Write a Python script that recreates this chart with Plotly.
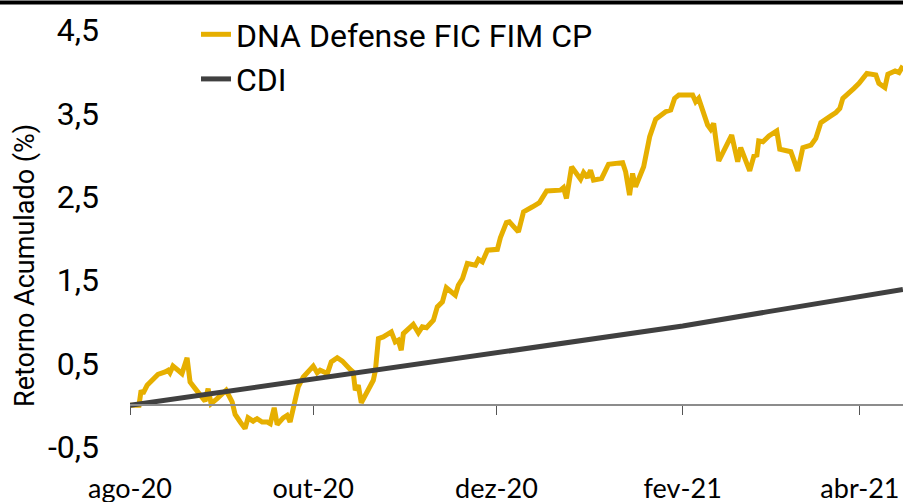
import pandas as pd
import plotly.graph_objects as go

# ---- data (days since 2020-08-01, cumulative return in %) ----
start_date = "2020-08-01"

dna_day = [0, 2, 3, 3.7, 4.3, 5.7, 7.3, 9.3, 11.7, 12.7, 13.3, 14.3, 16, 17.3, 19, 20,
           21.7, 24, 25, 26, 27, 29, 30.7, 32, 34, 35, 36.7, 38.3, 39.3, 41, 42.3, 44,
           45.7, 46.7, 48, 49, 51, 52.3, 53.3, 54.7, 56, 57.7, 59.3, 61, 62.3, 63.3,
           65.7, 67, 69, 70.7, 73.3, 74.3, 75, 76, 77, 80, 81, 81.7, 82.7, 84.3, 87,
           88.3, 89.3, 90.3, 91, 94.3, 96, 97.3, 98.7, 101, 102.3, 104, 105.3, 108.3,
           109.3, 110.7, 112.3, 115, 116, 117.3, 119, 122.3, 123.3, 125.3, 126.3, 129.3,
           131, 134, 136.3, 138.7, 143.3, 144.3, 145.3, 147, 150, 151, 152.3, 153.3,
           154.3, 157, 159.3, 164, 165, 166.3, 167.3, 168.3, 171, 173, 175, 178.3, 180,
           181.3, 182.7, 187.3, 188.3, 189.3, 192.3, 193.3, 194.3, 196, 198.3, 200.3,
           202.3, 203.3, 206.3, 207.7, 208.7, 209.3, 210.7, 212.7, 215.3, 216.3, 220,
           221.3, 222.3, 224, 226.7, 228.3, 230, 233.3, 235, 236.3, 237.3, 241, 242.7,
           245.3, 248.3, 249.3, 251.3, 252.3, 254.7, 256, 257.3]

dna_ret = [0.00, -0.01, 0.00, 0.18, 0.14, 0.24, 0.30, 0.37, 0.40, 0.42, 0.39, 0.47, 0.42,
           0.38, 0.57, 0.28, 0.20, 0.10, 0.05, 0.20, 0.02, 0.08, 0.14, 0.18, 0.04, -0.11,
           -0.20, -0.28, -0.15, -0.19, -0.16, -0.20, -0.20, -0.22, -0.03, -0.23, -0.15,
           -0.12, -0.20, -0.01, 0.22, 0.34, 0.40, 0.47, 0.39, 0.42, 0.38, 0.52, 0.57,
           0.53, 0.43, 0.40, 0.18, 0.24, 0.03, 0.24, 0.30, 0.42, 0.80, 0.82, 0.88, 0.76,
           0.78, 0.66, 0.86, 0.97, 0.87, 0.94, 0.93, 1.02, 1.18, 1.24, 1.41, 1.32, 1.44,
           1.52, 1.70, 1.68, 1.75, 1.72, 1.86, 1.87, 2.01, 2.19, 2.20, 2.08, 2.32, 2.38,
           2.43, 2.57, 2.58, 2.61, 2.48, 2.86, 2.71, 2.79, 2.73, 2.82, 2.70, 2.72, 2.89,
           2.91, 2.80, 2.52, 2.78, 2.62, 2.86, 3.22, 3.43, 3.52, 3.54, 3.68, 3.72, 3.72,
           3.64, 3.68, 3.36, 3.31, 3.38, 2.93, 3.10, 3.24, 2.92, 3.09, 2.81, 2.99, 3.00,
           3.17, 3.16, 3.23, 3.29, 3.07, 3.04, 2.92, 2.81, 3.09, 3.12, 3.20, 3.39, 3.47,
           3.51, 3.56, 3.68, 3.80, 3.86, 3.98, 3.96, 3.86, 3.81, 3.97, 4.01, 3.99, 4.07]

cdi_day = [0, 31, 61, 92, 122, 153, 184, 212, 243, 257.3]
cdi_ret = [0.00, 0.16, 0.32, 0.48, 0.64, 0.79, 0.95, 1.12, 1.30, 1.39]

x_tick_dates = ["2020-08-01", "2020-10-01", "2020-12-01", "2021-02-01", "2021-04-01"]
x_tick_text = ["ago-20", "out-20", "dez-20", "fev-21", "abr-21"]
y_tick_vals = [-0.5, 0.5, 1.5, 2.5, 3.5, 4.5]
y_tick_text = ["-0,5", "0,5", "1,5", "2,5", "3,5", "4,5"]

series_names = ["DNA Defense FIC FIM CP", "CDI"]
x_end_date = "2021-04-15 08:00"

# ---- build ----
t0 = pd.Timestamp(start_date)
dna_dates = t0 + pd.to_timedelta(dna_day, unit="D")
cdi_dates = t0 + pd.to_timedelta(cdi_day, unit="D")

W, H = 903, 502
ML, MR, MT, MB = 130, 0, 30, 55
plot_h = H - MT - MB
plot_w = W - ML - MR
y_min, y_max = -0.5, 4.5
zero_pos = (0 - y_min) / (y_max - y_min)

fig = go.Figure()
fig.add_trace(go.Scatter(x=dna_dates, y=dna_ret, mode="lines", name=series_names[0],
                         legendgroup="a",
                         line=dict(color="#E6AF00", width=5)))
fig.add_trace(go.Scatter(x=cdi_dates, y=cdi_ret, mode="lines", name=series_names[1],
                         legendgroup="b",
                         line=dict(color="#404040", width=5)))

fig.update_layout(
    width=W, height=H,
    margin=dict(l=ML, r=MR, t=MT, b=MB, autoexpand=False),
    paper_bgcolor="white", plot_bgcolor="white",
    font=dict(family="Roboto", color="black"),
    showlegend=True,
    legend=dict(x=(196 - ML) / plot_w, y=1.0 + 23 / plot_h, xanchor="left", yanchor="top",
                bgcolor="rgba(0,0,0,0)", font=dict(family="Roboto", size=32, color="black"),
                tracegroupgap=0, itemwidth=30),
    xaxis=dict(
        type="date",
        range=[t0, pd.Timestamp(x_end_date)],
        anchor="free", position=zero_pos,
        showline=True, linecolor="#8C8C8C", linewidth=2,
        ticks="outside", ticklen=9, tickwidth=1, tickcolor="#555555",
        tickvals=pd.to_datetime(x_tick_dates), ticktext=x_tick_text,
        tickfont=dict(family="Lato", size=27, color="black"),
        ticklabelstandoff=50,
        showgrid=False, zeroline=False,
    ),
    yaxis=dict(
        range=[y_min, y_max],
        tickvals=y_tick_vals, ticktext=y_tick_text,
        tickfont=dict(family="Roboto", size=32, color="black"),
        ticklabelstandoff=30,
        showgrid=False, zeroline=False, showline=False, ticks="",
    ),
    annotations=[dict(
        text="Retorno Acumulado (%)", textangle=-90,
        xref="paper", yref="paper", x=(25 - ML) / plot_w, y=(H - MB - 266) / plot_h,
        xanchor="center", yanchor="middle", showarrow=False,
        font=dict(family="Roboto", size=27, color="black"),
    )],
    shapes=[dict(type="line", xref="paper", yref="paper", layer="above",
                 x0=-ML / plot_w, x1=1.0, y0=(H - MB - 2.5) / plot_h, y1=(H - MB - 2.5) / plot_h,
                 line=dict(color="black", width=4))],
)

fig.write_html("out.html", config={"displayModeBar": False},
               post_script="document.body.style.margin='0';")
